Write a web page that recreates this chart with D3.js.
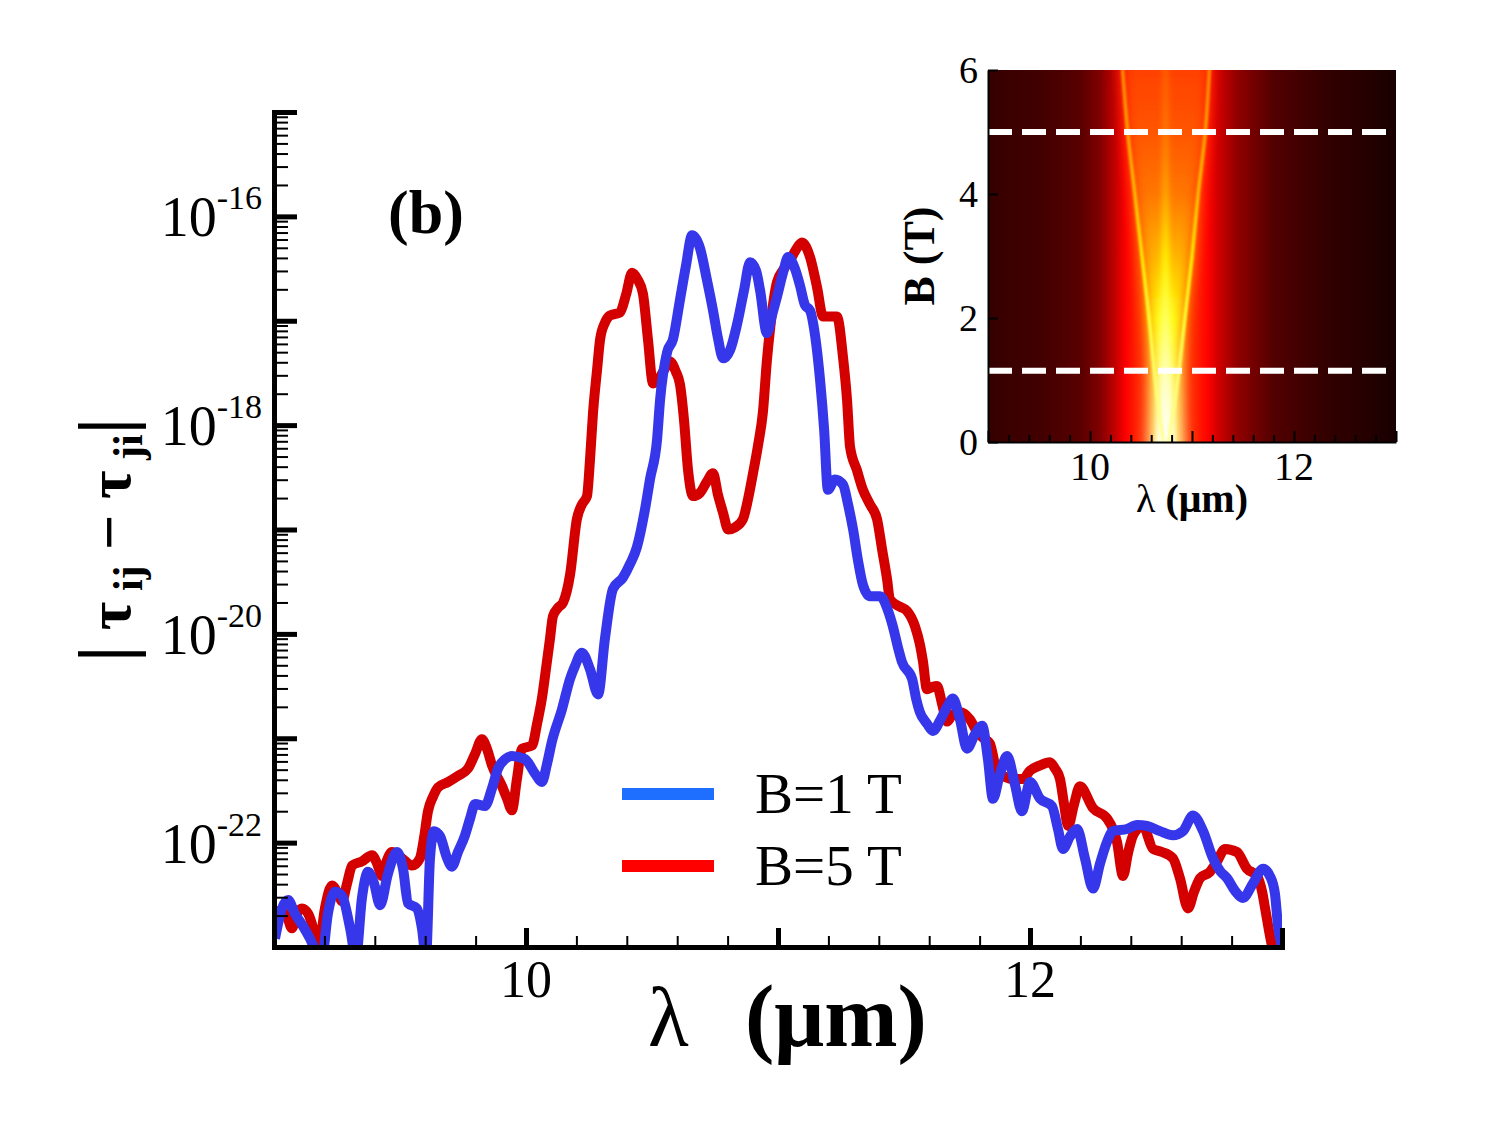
<!DOCTYPE html>
<html>
<head>
<meta charset="utf-8">
<script src="https://cdn.jsdelivr.net/npm/d3@7"></script>
<style>
body { margin: 0; background: #fff; }
text { font-family: "Liberation Serif", "Times New Roman", serif; fill: #000; }
</style>
</head>
<body>
<div id="chart"></div>
<script>
// main curves: [lambda (um), log10 |tau_ij - tau_ji|]
var blueCurve = [[9.004,-22.92],[9.032,-22.63],[9.056,-22.55],[9.083,-22.68],[9.115,-22.80],[9.143,-22.92],[9.167,-23.05],[9.190,-23.1],[9.214,-22.68],[9.242,-22.47],[9.270,-22.51],[9.302,-22.82],[9.325,-23.1],[9.349,-22.53],[9.373,-22.28],[9.397,-22.39],[9.421,-22.60],[9.452,-22.30],[9.488,-22.09],[9.512,-22.25],[9.532,-22.58],[9.567,-22.63],[9.587,-22.82],[9.603,-23.1],[9.619,-22.15],[9.635,-21.89],[9.659,-21.94],[9.687,-22.15],[9.706,-22.23],[9.730,-22.09],[9.758,-21.93],[9.778,-21.77],[9.798,-21.63],[9.837,-21.65],[9.865,-21.48],[9.889,-21.29],[9.917,-21.20],[9.944,-21.17],[9.996,-21.20],[10.036,-21.34],[10.063,-21.42],[10.083,-21.25],[10.103,-21.03],[10.143,-20.72],[10.175,-20.43],[10.194,-20.31],[10.222,-20.18],[10.254,-20.34],[10.286,-20.58],[10.313,-20.05],[10.345,-19.57],[10.385,-19.46],[10.413,-19.33],[10.440,-19.17],[10.472,-18.81],[10.492,-18.52],[10.520,-18.14],[10.532,-17.76],[10.560,-17.30],[10.583,-17.18],[10.611,-16.80],[10.635,-16.47],[10.659,-16.18],[10.690,-16.30],[10.718,-16.61],[10.742,-16.90],[10.762,-17.17],[10.782,-17.36],[10.810,-17.28],[10.837,-17.04],[10.865,-16.71],[10.889,-16.44],[10.913,-16.52],[10.929,-16.71],[10.956,-17.12],[10.976,-16.95],[10.996,-16.77],[11.020,-16.54],[11.040,-16.39],[11.067,-16.50],[11.087,-16.66],[11.107,-16.85],[11.127,-16.90],[11.147,-17.14],[11.167,-17.57],[11.183,-18.04],[11.198,-18.62],[11.226,-18.52],[11.258,-18.57],[11.278,-18.76],[11.298,-19.00],[11.317,-19.29],[11.337,-19.53],[11.365,-19.64],[11.405,-19.64],[11.437,-19.78],[11.456,-19.93],[11.476,-20.13],[11.492,-20.27],[11.532,-20.43],[11.548,-20.62],[11.563,-20.75],[11.591,-20.86],[11.615,-20.93],[11.643,-20.83],[11.671,-20.70],[11.694,-20.62],[11.722,-20.82],[11.750,-21.10],[11.782,-20.96],[11.810,-20.88],[11.833,-21.20],[11.853,-21.58],[11.881,-21.34],[11.909,-21.17],[11.940,-21.44],[11.968,-21.70],[12.000,-21.42],[12.040,-21.58],[12.087,-21.65],[12.111,-21.87],[12.131,-22.06],[12.159,-21.94],[12.187,-21.87],[12.218,-22.15],[12.250,-22.44],[12.278,-22.20],[12.306,-21.99],[12.329,-21.89],[12.385,-21.87],[12.425,-21.83],[12.464,-21.84],[12.516,-21.89],[12.567,-21.93],[12.607,-21.89],[12.647,-21.74],[12.687,-21.89],[12.726,-22.15],[12.754,-22.27],[12.782,-22.34],[12.813,-22.46],[12.845,-22.53],[12.885,-22.39],[12.925,-22.25],[12.952,-22.32],[12.972,-22.49],[12.984,-22.79],[13.0,-23.0]];

var redCurve = [[9.004,-22.73],[9.024,-22.65],[9.052,-22.71],[9.071,-22.82],[9.091,-22.68],[9.111,-22.63],[9.135,-22.68],[9.155,-22.82],[9.175,-23.05],[9.202,-22.63],[9.230,-22.41],[9.254,-22.49],[9.270,-22.56],[9.290,-22.39],[9.310,-22.22],[9.349,-22.18],[9.389,-22.12],[9.409,-22.20],[9.429,-22.32],[9.448,-22.17],[9.468,-22.09],[9.508,-22.15],[9.548,-22.22],[9.579,-22.15],[9.595,-21.96],[9.611,-21.70],[9.631,-21.56],[9.651,-21.47],[9.690,-21.42],[9.730,-21.36],[9.770,-21.29],[9.798,-21.15],[9.825,-21.01],[9.845,-21.10],[9.865,-21.26],[9.905,-21.46],[9.925,-21.58],[9.944,-21.69],[9.964,-21.39],[9.984,-21.10],[10.024,-21.07],[10.044,-20.86],[10.063,-20.62],[10.079,-20.34],[10.095,-20.05],[10.107,-19.83],[10.127,-19.75],[10.147,-19.70],[10.175,-19.43],[10.202,-18.90],[10.222,-18.76],[10.242,-18.68],[10.254,-18.33],[10.266,-17.88],[10.282,-17.47],[10.294,-17.18],[10.313,-17.02],[10.333,-16.95],[10.373,-16.92],[10.397,-16.75],[10.421,-16.54],[10.444,-16.61],[10.464,-16.74],[10.484,-17.18],[10.504,-17.60],[10.524,-17.57],[10.548,-17.47],[10.571,-17.39],[10.595,-17.49],[10.611,-17.61],[10.627,-17.95],[10.643,-18.43],[10.663,-18.68],[10.690,-18.65],[10.718,-18.54],[10.742,-18.46],[10.762,-18.67],[10.782,-18.84],[10.802,-19.00],[10.829,-18.98],[10.861,-18.90],[10.881,-18.71],[10.901,-18.46],[10.921,-18.19],[10.940,-17.88],[10.956,-17.38],[10.968,-17.09],[10.996,-16.63],[11.024,-16.50],[11.048,-16.42],[11.071,-16.32],[11.095,-16.25],[11.127,-16.39],[11.155,-16.68],[11.179,-16.96],[11.234,-16.96],[11.258,-17.35],[11.274,-17.76],[11.286,-18.21],[11.313,-18.43],[11.337,-18.62],[11.365,-18.76],[11.393,-18.90],[11.413,-19.19],[11.433,-19.48],[11.444,-19.67],[11.484,-19.74],[11.512,-19.78],[11.544,-19.93],[11.563,-20.10],[11.575,-20.26],[11.591,-20.53],[11.611,-20.51],[11.631,-20.50],[11.651,-20.67],[11.671,-20.84],[11.694,-20.77],[11.722,-20.75],[11.762,-20.82],[11.790,-20.94],[11.821,-21.01],[11.841,-21.05],[11.869,-21.32],[11.901,-21.37],[11.933,-21.39],[11.972,-21.39],[12.000,-21.31],[12.040,-21.26],[12.079,-21.23],[12.099,-21.29],[12.119,-21.39],[12.135,-21.63],[12.151,-21.84],[12.175,-21.63],[12.198,-21.46],[12.250,-21.67],[12.306,-21.77],[12.329,-21.87],[12.345,-21.99],[12.369,-22.32],[12.389,-22.10],[12.409,-21.93],[12.448,-21.84],[12.488,-22.06],[12.524,-22.09],[12.567,-22.15],[12.595,-22.34],[12.627,-22.63],[12.651,-22.47],[12.675,-22.34],[12.714,-22.28],[12.742,-22.18],[12.774,-22.06],[12.821,-22.09],[12.861,-22.25],[12.901,-22.32],[12.921,-22.47],[12.933,-22.63],[12.952,-22.89],[12.968,-23.08]];

var seriesNames = ["B=1 T", "B=5 T"];
var xTickLabels = [10, 12];
var yLabelExponents = [-16, -18, -20, -22];

// inset: background level across lambda (0..1 on a "hot" map)
var bgLambda = [9, 9.5, 9.9, 10.1, 10.25, 10.35, 10.45, 10.75, 11.05, 11.15, 11.25, 11.45, 11.8, 12.3, 12.8, 13];
var bgLevel  = [0.08, 0.095, 0.13, 0.19, 0.29, 0.37, 0.42, 0.45, 0.42, 0.38, 0.31, 0.21, 0.12, 0.075, 0.05, 0.035];
// inset: features versus field B
var fieldB       = [0, 1, 2, 3, 4, 5, 6];
var branchLeft   = [10.72, 10.64, 10.58, 10.51, 10.44, 10.37, 10.32];
var branchCenter = [10.74, 10.74, 10.74, 10.74, 10.74, 10.74, 10.74];
var branchRight  = [10.77, 10.86, 10.93, 11.00, 11.06, 11.13, 11.17];
var glowLeft     = [10.57, 10.58, 10.56, 10.51, 10.44, 10.37, 10.32];
var glowRight    = [10.92, 10.91, 10.93, 11.00, 11.06, 11.13, 11.17];
var glowLevel    = [0.90, 0.84, 0.76, 0.64, 0.55, 0.50, 0.47];
var coreHalf     = [0.08, 0.06, 0.045, 0.03, 0.02, 0.015, 0.012];
var coreLevel    = [1.0, 0.94, 0.85, 0.75, 0.67, 0.61, 0.58];
var branchLevel  = [0.90, 0.86, 0.80, 0.72, 0.65, 0.61, 0.58];
var dashB = [1.15, 5.0];
var insetYTicks = [0, 2, 4, 6];
var insetXTicks = [10, 12];

var svg = d3.select("#chart").append("svg")
    .attr("width", 1500)
    .attr("height", 1125);
svg.append("rect").attr("width", 1500).attr("height", 1125).attr("fill", "#fff");
var defs = svg.append("defs");

// ---------- main plot ----------
var x = d3.scaleLinear().domain([9, 13]).range([274, 1282]);
var y = d3.scaleLog().domain([1e-23, 1e-15]).range([947, 112]);

defs.append("clipPath").attr("id", "plotClip")
    .append("rect").attr("x", 274).attr("y", 112).attr("width", 1008).attr("height", 835);

var line = d3.line()
    .curve(d3.curveMonotoneX)
    .x(d => x(d[0]))
    .y(d => y(Math.pow(10, d[1])));

var gCurves = svg.append("g").attr("clip-path", "url(#plotClip)");
gCurves.append("path").datum(redCurve)
    .attr("d", line).attr("fill", "none")
    .attr("stroke", "#d40000").attr("stroke-width", 10)
    .attr("stroke-linejoin", "round");
gCurves.append("path").datum(blueCurve)
    .attr("d", line).attr("fill", "none")
    .attr("stroke", "#3636ea").attr("stroke-width", 10)
    .attr("stroke-linejoin", "round");

// x axis, ticks pointing inward
var xMajor = [9, 10, 11, 12, 13];
var xMinor = d3.range(9.2, 13, 0.2).filter(v => Math.abs(v - Math.round(v)) > 0.01);
var gxMinor = svg.append("g").attr("transform", "translate(0,947)")
    .call(d3.axisBottom(x).tickValues(xMinor).tickSize(-11).tickSizeOuter(0).tickFormat(""));
gxMinor.select(".domain").remove();
gxMinor.selectAll(".tick line").attr("stroke", "#000").attr("stroke-width", 2);
var gx = svg.append("g").attr("transform", "translate(0,947)")
    .call(d3.axisBottom(x).tickValues(xMajor).tickSize(-19).tickSizeOuter(0).tickFormat(""));
gx.select(".domain").attr("stroke", "#000").attr("stroke-width", 5).attr("stroke-linecap", "square");
gx.selectAll(".tick line").attr("stroke", "#000").attr("stroke-width", 5);

svg.selectAll(".xlab").data(xTickLabels).join("text")
    .attr("class", "xlab")
    .attr("x", d => x(d))
    .attr("y", 997)
    .attr("text-anchor", "middle")
    .attr("font-size", 52)
    .text(d => d);

// y axis
var yMajor = d3.range(-22, -14).map(e => Math.pow(10, e));
var yMinor = [];
d3.range(-23, -15).forEach(function(e) {
    for (var m = 2; m <= 9; m++) yMinor.push(m * Math.pow(10, e));
});
var gyMinor = svg.append("g").attr("transform", "translate(274,0)")
    .call(d3.axisLeft(y).tickValues(yMinor).tickSize(-14).tickSizeOuter(0).tickFormat(""));
gyMinor.select(".domain").remove();
gyMinor.selectAll(".tick line").attr("stroke", "#000").attr("stroke-width", 2);
var gy = svg.append("g").attr("transform", "translate(274,0)")
    .call(d3.axisLeft(y).tickValues(yMajor).tickSize(-23).tickSizeOuter(0).tickFormat(""));
gy.select(".domain").attr("stroke", "#000").attr("stroke-width", 5).attr("stroke-linecap", "square");
gy.selectAll(".tick line").attr("stroke", "#000").attr("stroke-width", 5);

yLabelExponents.forEach(function(e) {
    var t = svg.append("text")
        .attr("x", 262)
        .attr("y", y(Math.pow(10, e)) + 20)
        .attr("text-anchor", "end")
        .attr("font-size", 56);
    t.append("tspan").text("10");
    t.append("tspan").attr("font-size", 34).attr("dy", -27).text("-" + Math.abs(e));
});

// axis titles
var xt = svg.append("text").attr("x", 648).attr("y", 1046).attr("font-size", 84);
xt.append("tspan").text("λ");
xt.append("tspan").attr("x", 745).attr("font-weight", "bold").attr("font-size", 88).text("(μm)");

var yt = svg.append("text")
    .attr("transform", "translate(130,540) rotate(-90)")
    .attr("text-anchor", "middle")
    .attr("font-weight", "bold")
    .attr("font-size", 62);
yt.append("tspan").attr("font-size", 74).text("|");
yt.append("tspan").text(" τ");
yt.append("tspan").attr("font-size", 42).attr("dy", 12).text(" ij");
yt.append("tspan").attr("dy", -12).text(" − τ");
yt.append("tspan").attr("font-size", 42).attr("dy", 12).text(" ji");
yt.append("tspan").attr("dy", -12).attr("font-size", 74).text("|");

svg.append("text").attr("x", 388).attr("y", 233)
    .attr("font-size", 62).attr("font-weight", "bold").text("(b)");

// legend
var legendColors = ["#1e6eff", "#ff0000"];
var legend = svg.selectAll(".leg").data(seriesNames).join("g").attr("class", "leg")
    .attr("transform", (d, i) => "translate(0," + (i * 72) + ")");
legend.append("line")
    .attr("x1", 622).attr("x2", 714).attr("y1", 794).attr("y2", 794)
    .attr("stroke", (d, i) => legendColors[i]).attr("stroke-width", 12);
legend.append("text")
    .attr("x", 755).attr("y", 813)
    .attr("font-size", 57)
    .text(d => d);

// ---------- inset ----------
var xi = d3.scaleLinear().domain([9, 13]).range([988, 1396]);
var yi = d3.scaleLinear().domain([0, 6]).range([442, 70]);
var hot = d3.scaleLinear().domain([0, 0.375, 0.75, 1]).range(["#000000", "#ff0000", "#ffff00", "#ffffff"]);

defs.append("clipPath").attr("id", "insetClip")
    .append("rect").attr("x", xi(9)).attr("y", yi(6)).attr("width", xi(13) - xi(9)).attr("height", yi(0) - yi(6));

var bgGrad = defs.append("linearGradient").attr("id", "bgGrad")
    .attr("gradientUnits", "userSpaceOnUse")
    .attr("x1", xi(9)).attr("x2", xi(13)).attr("y1", 0).attr("y2", 0);
bgLambda.forEach(function(l, i) {
    bgGrad.append("stop").attr("offset", (l - 9) / 4).attr("stop-color", hot(bgLevel[i]));
});

function vGrad(id, levels) {
    var g = defs.append("linearGradient").attr("id", id)
        .attr("gradientUnits", "userSpaceOnUse")
        .attr("x1", 0).attr("x2", 0).attr("y1", yi(0)).attr("y2", yi(6));
    fieldB.forEach(function(b, i) {
        g.append("stop").attr("offset", b / 6).attr("stop-color", hot(levels[i]));
    });
}
vGrad("glowGrad", glowLevel);
vGrad("coreGrad", coreLevel);
vGrad("branchGrad", branchLevel);

function hBlur(id, s) {
    defs.append("filter").attr("id", id)
        .attr("x", "-20%").attr("y", "-5%").attr("width", "140%").attr("height", "110%")
        .append("feGaussianBlur").attr("stdDeviation", s + " 0");
}
hBlur("blurWide", 7);
hBlur("blurMid", 3);
hBlur("blurThin", 1.2);

var gi = svg.append("g").attr("clip-path", "url(#insetClip)");
gi.append("rect")
    .attr("x", xi(9)).attr("y", yi(6))
    .attr("width", xi(13) - xi(9)).attr("height", yi(0) - yi(6))
    .attr("fill", "url(#bgGrad)");

var rows = fieldB.map((b, i) => ({
    b: b, gl: glowLeft[i], gr: glowRight[i],
    bl: branchLeft[i], bc: branchCenter[i], br: branchRight[i], ch: coreHalf[i]
}));

gi.append("path").datum(rows)
    .attr("d", d3.area().curve(d3.curveMonotoneY)
        .y(d => yi(d.b)).x0(d => xi(d.gl)).x1(d => xi(d.gr)))
    .attr("fill", "url(#glowGrad)")
    .attr("filter", "url(#blurWide)");

gi.append("path").datum(rows)
    .attr("d", d3.area().curve(d3.curveMonotoneY)
        .y(d => yi(d.b)).x0(d => xi(d.bc - d.ch)).x1(d => xi(d.bc + d.ch)))
    .attr("fill", "url(#coreGrad)")
    .attr("filter", "url(#blurMid)");

["bl", "br", "bc"].forEach(function(k) {
    gi.append("path").datum(rows)
        .attr("d", d3.line().curve(d3.curveMonotoneY).x(d => xi(d[k])).y(d => yi(d.b)))
        .attr("fill", "none")
        .attr("stroke", k === "bc" ? "url(#coreGrad)" : "url(#branchGrad)")
        .attr("stroke-width", k === "bc" ? 5 : 3.5)
        .attr("filter", "url(#blurThin)");
});

gi.selectAll(".dash").data(dashB).join("line")
    .attr("class", "dash")
    .attr("x1", xi(9)).attr("x2", xi(13))
    .attr("y1", d => yi(d)).attr("y2", d => yi(d))
    .attr("stroke", "#fff").attr("stroke-width", 6)
    .attr("stroke-dasharray", "24,10");

// inset axes
var ixMinor = d3.range(9.2, 13, 0.2).filter(v => Math.abs(v - Math.round(v)) > 0.01);
var gix = svg.append("g").attr("transform", "translate(0," + yi(0) + ")");
gix.call(d3.axisBottom(xi).tickValues(ixMinor).tickSize(-7).tickSizeOuter(0).tickFormat(""));
gix.select(".domain").remove();
gix.selectAll(".tick line").attr("stroke", "#000").attr("stroke-width", 2);
var gix2 = svg.append("g").attr("transform", "translate(0," + yi(0) + ")");
gix2.call(d3.axisBottom(xi).tickValues([9, 10, 11, 12, 13]).tickSize(-11).tickSizeOuter(0).tickFormat(""));
gix2.select(".domain").attr("stroke", "#000").attr("stroke-width", 2);
gix2.selectAll(".tick line").attr("stroke", "#000").attr("stroke-width", 2);
var giy = svg.append("g").attr("transform", "translate(" + xi(9) + ",0)");
giy.call(d3.axisLeft(yi).tickValues(insetYTicks).tickSize(-10).tickSizeOuter(0).tickFormat(""));
giy.select(".domain").attr("stroke", "#000").attr("stroke-width", 2);
giy.selectAll(".tick line").attr("stroke", "#000").attr("stroke-width", 2);

svg.selectAll(".iylab").data(insetYTicks).join("text")
    .attr("class", "iylab")
    .attr("x", 978).attr("y", d => yi(d) + 13)
    .attr("text-anchor", "end").attr("font-size", 38)
    .text(d => d);
svg.selectAll(".ixlab").data(insetXTicks).join("text")
    .attr("class", "ixlab")
    .attr("x", d => xi(d)).attr("y", 480)
    .attr("text-anchor", "middle").attr("font-size", 40)
    .text(d => d);

var ixt = svg.append("text").attr("x", xi(11)).attr("y", 512)
    .attr("text-anchor", "middle").attr("font-size", 40);
ixt.append("tspan").text("λ ");
ixt.append("tspan").attr("font-weight", "bold").text("(μm)");

svg.append("text")
    .attr("transform", "translate(934," + yi(3) + ") rotate(-90)")
    .attr("text-anchor", "middle")
    .attr("font-weight", "bold")
    .attr("font-size", 44)
    .text("B (T)");
</script>
</body>
</html>
